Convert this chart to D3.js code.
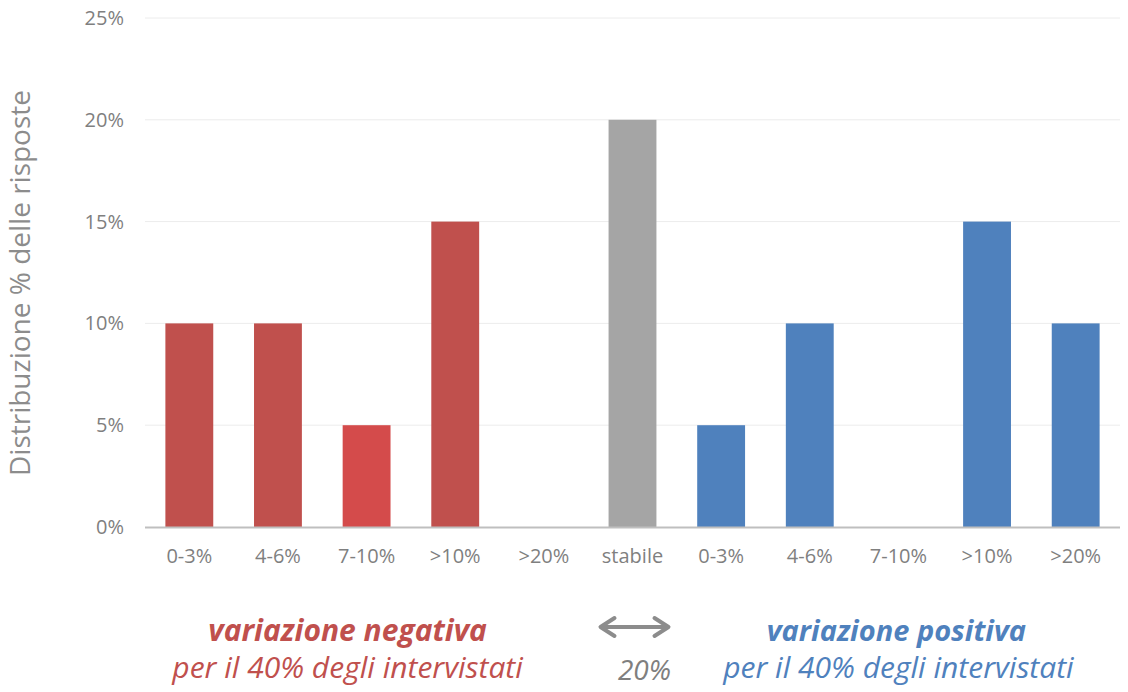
<!doctype html>
<html>
<head>
<meta charset="utf-8">
<script src="https://d3js.org/d3.v7.min.js"></script>
<style>
body { margin: 0; background: #fff; }
svg text { font-family: "Open Sans", sans-serif; }
</style>
</head>
<body>
<svg width="1128" height="692" class="chart"></svg>
<script>
// data
var categories = ["0-3%", "4-6%", "7-10%", ">10%", ">20%", "stabile", "0-3%", "4-6%", "7-10%", ">10%", ">20%"];
var groups = ["neg", "neg", "neg", "neg", "neg", "stab", "pos", "pos", "pos", "pos", "pos"];
var values = [10, 10, 5, 15, 0, 20, 5, 10, 0, 15, 10];
var yTicks = [0, 5, 10, 15, 20, 25];

var svg = d3.select(".chart");

var xScale = d3.scaleBand().domain(d3.range(categories.length)).range([145, 1120]).paddingInner(0.46).paddingOuter(0.23),
    yScale = d3.scaleLinear().domain([0, 25]).range([527, 18]);

var colors = { neg: "#c0504d", stab: "#a5a5a5", pos: "#4f81bd" };

// grid
svg.append("g").selectAll("line")
    .data(yTicks.slice(1))
    .join("line")
    .attr("x1", 145).attr("x2", 1120)
    .attr("y1", d => yScale(d)).attr("y2", d => yScale(d))
    .style("stroke", "#ececec")
    .style("stroke-width", 1);

// y axis labels
var yAxis = svg.append("g")
    .attr("transform", "translate(124,0)")
    .call(d3.axisLeft(yScale).tickValues(yTicks).tickFormat(d => d + "%").tickSize(0).tickPadding(0));
yAxis.select(".domain").remove();
yAxis.selectAll("text")
    .style("font-family", "Open Sans")
    .style("font-size", "20px")
    .style("fill", "#7f7f7f");

// bars
svg.append("g").selectAll("rect")
    .data(values)
    .join("rect")
    .attr("x", (d, i) => xScale(i))
    .attr("y", d => yScale(d))
    .attr("width", xScale.bandwidth())
    .attr("height", d => yScale(0) - yScale(d))
    .style("fill", (d, i) => i === 2 ? "#d44b4b" : colors[groups[i]]);

// x axis
var xAxis = svg.append("g")
    .attr("transform", "translate(0,527)")
    .call(d3.axisBottom(xScale).tickFormat(i => categories[i]).tickSize(0).tickPadding(22));
xAxis.select(".domain").remove();
xAxis.selectAll("text")
    .style("font-family", "Open Sans")
    .style("font-size", "20px")
    .style("fill", "#7f7f7f");
svg.append("line")
    .attr("x1", 145).attr("x2", 1120)
    .attr("y1", 527.5).attr("y2", 527.5)
    .style("stroke", "#bfbfbf")
    .style("stroke-width", 2);

// y title
svg.append("text")
    .attr("text-anchor", "middle")
    .attr("transform", "translate(30,283)rotate(-90)")
    .style("font-size", "28px")
    .style("fill", "#8c8c8c")
    .text("Distribuzione % delle risposte");

// bottom notes
var negX = (xScale(0) + xScale(4) + xScale.bandwidth()) / 2 - 19,
    posX = (xScale(6) + xScale(10) + xScale.bandwidth()) / 2,
    midX = xScale(5) + xScale.bandwidth() / 2;

svg.append("text").attr("x", negX).attr("y", 641).attr("text-anchor", "middle")
    .style("font-size", "30px").style("font-weight", "bold").style("font-style", "italic")
    .style("fill", "#c0504d").text("variazione negativa");
svg.append("text").attr("x", negX).attr("y", 678).attr("text-anchor", "middle")
    .style("font-size", "30px").style("font-style", "italic")
    .style("fill", "#c0504d").text("per il 40% degli intervistati");

svg.append("text").attr("x", posX - 2).attr("y", 641).attr("text-anchor", "middle")
    .style("font-size", "29px").style("font-weight", "bold").style("font-style", "italic")
    .style("fill", "#4f81bd").text("variazione positiva");
svg.append("text").attr("x", posX).attr("y", 678).attr("text-anchor", "middle")
    .style("font-size", "30px").style("font-style", "italic")
    .style("fill", "#4f81bd").text("per il 40% degli intervistati");

svg.append("text").attr("x", midX + 12).attr("y", 680).attr("text-anchor", "middle")
    .style("font-size", "28px").style("font-style", "italic")
    .style("fill", "#7f7f7f").text("20%");

// double arrow
var ay = 627, ax1 = midX - 32, ax2 = midX + 36;
svg.append("path")
    .attr("d", "M" + (ax1 + 3) + "," + ay + "L" + (ax2 - 3) + "," + ay +
        "M" + (ax1 + 14) + "," + (ay - 9) + "L" + ax1 + "," + ay + "L" + (ax1 + 14) + "," + (ay + 9) +
        "M" + (ax2 - 14) + "," + (ay - 9) + "L" + ax2 + "," + ay + "L" + (ax2 - 14) + "," + (ay + 9))
    .style("fill", "none")
    .style("stroke", "#8c8c8c")
    .style("stroke-width", 4)
    .style("stroke-linecap", "round")
    .style("stroke-linejoin", "round");
</script>
</body>
</html>
